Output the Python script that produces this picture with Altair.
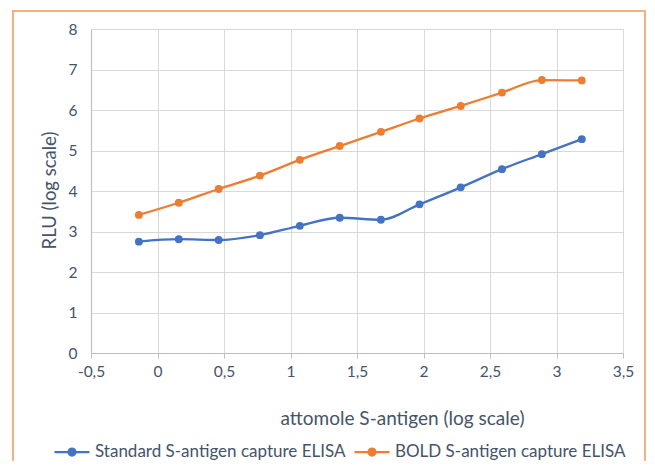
import altair as alt
import pandas as pd

# data
x_vals = [-0.14, 0.16, 0.46, 0.77, 1.07, 1.37, 1.68, 1.97, 2.28, 2.59, 2.89, 3.19]
standard = [2.75, 2.81, 2.79, 2.91, 3.14, 3.34, 3.29, 3.67, 4.09, 4.54, 4.91, 5.28]
bold = [3.41, 3.71, 4.05, 4.38, 4.77, 5.11, 5.46, 5.79, 6.10, 6.43, 6.74, 6.73]
series_names = ["Standard S-antigen capture ELISA", "BOLD S-antigen capture ELISA"]
series_colors = ["#4472C4", "#ED7D31"]
x_ticks = [-0.5, 0, 0.5, 1, 1.5, 2, 2.5, 3, 3.5]
y_ticks = [0, 1, 2, 3, 4, 5, 6, 7, 8]

rows = []
for name, vals in zip(series_names, [standard, bold]):
    for xv, yv in zip(x_vals, vals):
        rows.append({"x": xv, "y": yv, "series": name})
df = pd.DataFrame(rows)

TEXT = "#44546A"
FONT = "Lato"

legend_symbol = ("M-1,0H1M-0.2,0A0.2,0.2,0,1,1,0.2,0A0.2,0.2,0,1,1,-0.2,0Z")

legend = alt.Legend(
    title=None, orient="none", direction="horizontal",
    legendX=-38, legendY=404, padding=0,
    symbolType=legend_symbol, symbolSize=1225, symbolStrokeWidth=2.25,
    labelFont=FONT, labelFontSize=17, labelColor=TEXT, labelOffset=4,
    columnPadding=4, labelLimit=400,
)

scale_c = alt.Scale(domain=series_names, range=series_colors)

x_enc = alt.X("x:Q", scale=alt.Scale(domain=[-0.5, 3.5], nice=False, zero=False),
              axis=alt.Axis(values=x_ticks, title="attomole S-antigen (log scale)",
                            labelExpr="replace(toString(datum.value), '.', ',')",
                            labelFlush=False, labelOverlap=False,
                            labelFont=FONT, labelFontSize=15.5, labelColor=TEXT, labelPadding=6,
                            titleFont=FONT, titleFontSize=19, titleColor=TEXT, titleFontWeight="normal",
                            titleX=311, titleY=65, titleBaseline="middle", titleAlign="center",
                            grid=True, gridColor="#D9D9D9", gridWidth=1,
                            domainColor="#BFBFBF", domainWidth=1.2,
                            ticks=True, tickColor="#BFBFBF", tickSize=5))
y_enc = alt.Y("y:Q", scale=alt.Scale(domain=[0, 8], nice=False),
              axis=alt.Axis(values=y_ticks, title="RLU (log scale)",
                            labelFlush=False, labelOverlap=False,
                            labelFont=FONT, labelFontSize=15.5, labelColor=TEXT, labelPadding=14,
                            titleFont=FONT, titleFontSize=18.5, titleColor=TEXT, titleFontWeight="normal",
                            titleX=-42, titleY=161, titleBaseline="middle", titleAlign="center",
                            grid=True, gridColor="#D9D9D9", gridWidth=1,
                            domainColor="#BFBFBF", domainWidth=1.2, ticks=False))

lines = alt.Chart(df).mark_line(interpolate="monotone", strokeWidth=2.3).encode(
    x=x_enc, y=y_enc,
    stroke=alt.Stroke("series:N", scale=scale_c, sort=series_names, legend=legend),
)
points = alt.Chart(df).mark_point(filled=True, size=62, opacity=1, strokeWidth=0).encode(
    x="x:Q", y="y:Q",
    fill=alt.Fill("series:N", scale=scale_c, sort=series_names, legend=legend),
    stroke=alt.Stroke("series:N", scale=scale_c, sort=series_names, legend=legend),
)
frame = alt.Chart(df).mark_rect(fill=None, stroke="#F4B183", strokeWidth=2).encode(
    x=alt.value(-78), x2=alt.value(554), y=alt.value(-18), y2=alt.value(520)
)

chart = alt.layer(frame, lines, points).properties(
    width=532, height=324,
    autosize=alt.AutoSizeParams(type="none"),
    padding={"left": 83, "top": 21, "right": 23, "bottom": 108},
).configure_view(stroke=None).configure(background="white")

chart.save("out.html", embed_options={"renderer": "svg", "actions": False})
